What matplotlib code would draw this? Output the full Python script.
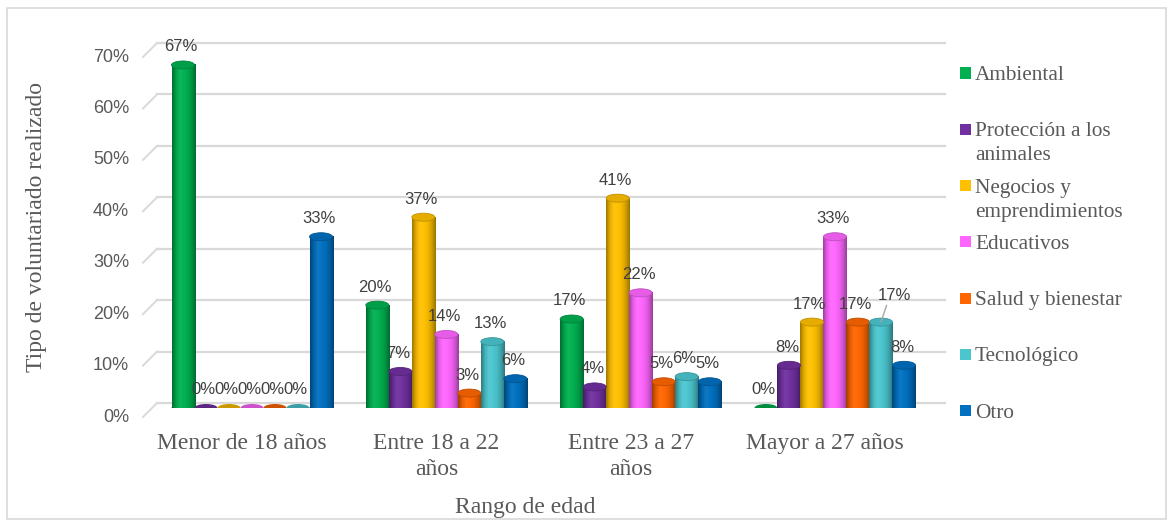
import numpy as np
import matplotlib
matplotlib.use('Agg')
import matplotlib.pyplot as plt
from matplotlib.patches import Ellipse, Rectangle
from matplotlib.colors import LinearSegmentedColormap, to_rgb
from matplotlib.transforms import ScaledTranslation
from matplotlib.lines import Line2D

# Data (percent)
categories = ['Menor de 18 años', 'Entre 18 a 22\naños', 'Entre 23 a 27\naños', 'Mayor a 27 años']
series = ['Ambiental', 'Protección a los\nanimales', 'Negocios y\nemprendimientos',
          'Educativos', 'Salud y bienestar', 'Tecnológico', 'Otro']
ambiental = [66.7, 20.0, 17.3, 0.0]
proteccion = [0.0, 7.1, 4.1, 8.3]
negocios = [0.0, 37.1, 40.8, 16.7]
educativos = [0.0, 14.3, 22.4, 33.3]
salud = [0.0, 2.9, 5.1, 16.7]
tecnologico = [0.0, 12.9, 6.1, 16.7]
otro = [33.3, 5.7, 5.1, 8.3]
yticks = [0, 10, 20, 30, 40, 50, 60, 70]

values = [ambiental, proteccion, negocios, educativos, salud, tecnologico, otro]
colors = ['#00B050', '#7030A0', '#FFC000', '#FF66FF', '#FF6600', '#4BC6CF', '#0070C0']

W, H = 1173, 520
serif = 'Liberation Serif'
sans = 'Liberation Sans'
txt = '#595959'


def shade(c, f):
    c = np.array(to_rgb(c))
    if f < 1:
        return tuple(c * f)
    return tuple(c + (1 - c) * (f - 1))


def px(dx, dy):
    # offset in pixels (dy positive = down)
    return ScaledTranslation(dx / 100, -dy / 100, fig.dpi_scale_trans)


fig = plt.figure(figsize=(W / 100, H / 100), dpi=100)
fig.patches.append(Rectangle((7 / W, 1 / H), 1159 / W, 511 / H, transform=fig.transFigure,
                             fill=False, edgecolor='#D9D9D9', lw=1.2))

ax_l, ax_r, ax_b, ax_t = 157, 945, 408, 48
ax = fig.add_axes([ax_l / W, 1 - ax_b / H, (ax_r - ax_l) / W, (ax_b - ax_t) / H])
ax.set_facecolor('none')
for s in ax.spines.values():
    s.set_visible(False)

x = np.arange(len(categories))
xmin = -(252 - ax_l) / 194.3
xmax = 3 + (ax_r - 835) / 194.3
bw = 23 / 194.3
eh = 8 / ((ax_b - ax_t) / 70)

# gridlines (back wall, slightly raised)
for v in yticks:
    ax.plot([xmin, xmax], [v, v], color='#D9D9D9', lw=1.6, zorder=1,
            transform=ax.transData + px(0, -5), clip_on=False)
fig.canvas.draw()

grad = np.linspace(0, 1, 80).reshape(1, -1)
for j, (vals, col) in enumerate(zip(values, colors)):
    cm = LinearSegmentedColormap.from_list('c%d' % j, [shade(col, f) for f in
                                                        [0.62, 0.9, 1.06, 1.02, 0.95, 0.82, 0.6]])
    for i, v in enumerate(vals):
        xc = x[i] + (j - 3) * bw
        x0 = xc - bw / 2
        ax.add_patch(Ellipse((xc, 0), bw, eh, facecolor=shade(col, 0.8), edgecolor='none', zorder=3))
        if v > 0:
            ax.imshow(grad, cmap=cm, extent=(x0, x0 + bw, 0, v), aspect='auto',
                      zorder=3, interpolation='bilinear')
            ax.add_patch(Ellipse((xc, v), bw, eh, facecolor=shade(col, 0.9),
                                 edgecolor=shade(col, 0.75), lw=0.6, zorder=3.2))
        lbl = '%d%%' % round(v)
        if j == 5 and i == 3:
            ax.annotate(lbl, (xc, v), xytext=(9.5, 19.5), textcoords='offset points',
                        ha='center', va='center', fontsize=12, color='#404040', family=sans,
                        zorder=5, annotation_clip=False,
                        arrowprops=dict(arrowstyle='-', color='#A6A6A6', lw=1,
                                        shrinkA=0, shrinkB=0, relpos=(0.3, 0)))
        else:
            ax.annotate(lbl, (xc, v), xytext=(-1.5, 13), textcoords='offset points',
                        ha='center', va='center', fontsize=12, color='#404040', family=sans,
                        zorder=5, annotation_clip=False)

ax.set_xlim(xmin, xmax)
ax.set_ylim(0, 70)

ax.set_xticks(x)
ax.set_xticklabels(categories, fontsize=17, color=txt, family=serif, linespacing=1.34)
ax.tick_params(axis='x', length=0, pad=18)
for t in ax.get_xticklabels():
    t.set_transform(t.get_transform() + px(-10, 0))

ax.set_yticks(yticks)
ax.set_yticklabels(['%d%%' % v for v in yticks], fontsize=13, color=txt, family=sans)
ax.tick_params(axis='y', length=0, pad=20)
for t in ax.get_yticklabels():
    t.set_transform(t.get_transform() + px(0, 7))

# slanted stubs at left of gridlines
for v in yticks:
    yd = ax.transData.transform((0, v))[1]
    yf = yd / H
    fig.add_artist(Line2D([143 / W, 157 / W], [yf - 9 / H, yf + 5 / H], color='#D9D9D9', lw=1.4))

fig.text(37 / W, 1 - 227 / H, 'Tipo de voluntariado realizado', rotation=90, ha='center',
         va='center', fontsize=17, color=txt, family=serif)
fig.text(525 / W, 1 - 507 / H, 'Rango de edad', ha='center', va='center',
         fontsize=17, color=txt, family=serif)

# legend
for k, (name, col) in enumerate(zip(series, colors)):
    yc = 73 + k * 56.3
    fig.patches.append(Rectangle((960 / W, 1 - (yc + 5.5) / H), 11 / W, 11 / H,
                                 transform=fig.transFigure, facecolor=col, edgecolor='none'))
    fig.text(975 / W, 1 - (yc - 7) / H, name, ha='left', va='top', fontsize=15.3,
             color=txt, family=serif, linespacing=1.36)

fig.savefig('out.png', dpi=100)
